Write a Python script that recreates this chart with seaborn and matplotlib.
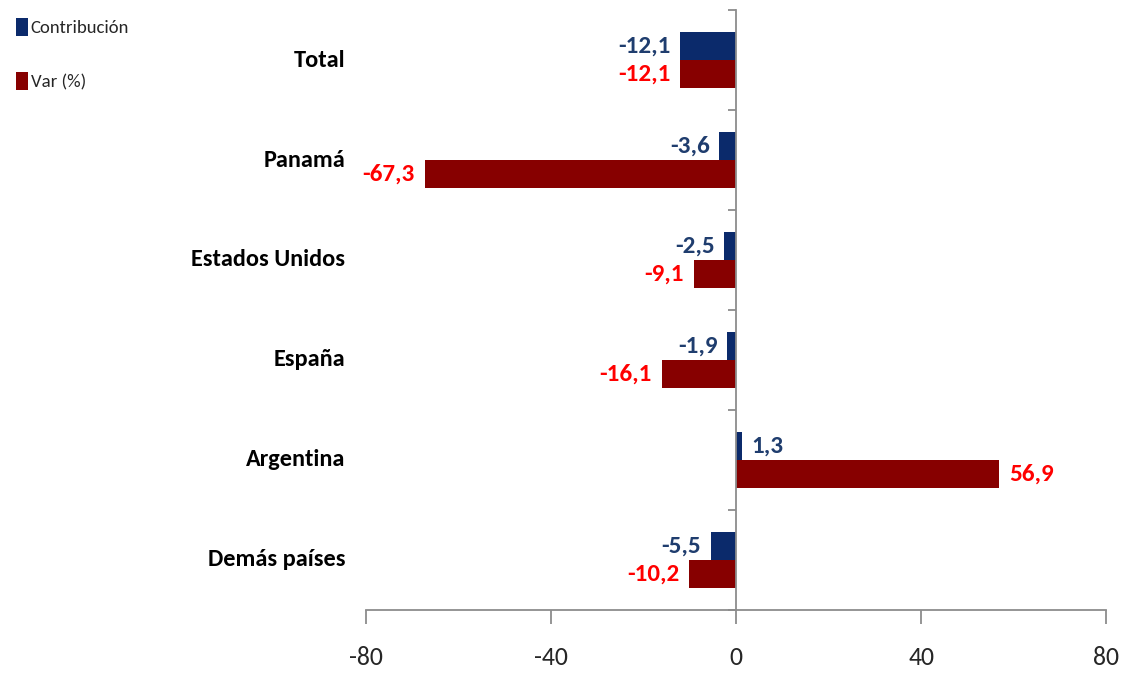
import numpy as np
import pandas as pd
import seaborn as sns
import matplotlib.pyplot as plt
import matplotlib.transforms as mtransforms
from matplotlib import font_manager

# === datos ===
paises = ["Total", "Panamá", "Estados Unidos", "España", "Argentina", "Demás países"]
contribucion = [-12.1, -3.6, -2.5, -1.9, 1.3, -5.5]
var_pct = [-12.1, -67.3, -9.1, -16.1, 56.9, -10.2]
series = ["Contribución", "Var (%)"]
xticks = [-80, -40, 0, 40, 80]

df = pd.DataFrame({
    "pais": paises * 2,
    "serie": [series[0]] * len(paises) + [series[1]] * len(paises),
    "valor": contribucion + var_pct,
})

sns.set_theme(style="white")

# fuente angosta tipo Calibri, la primera que exista
installed = {f.name for f in font_manager.fontManager.ttflist}
candidatos = ["Carlito", "Liberation Sans Narrow", "Roboto Condensed",
              "Open Sans Condensed", "Lato", "Liberation Sans"]
fuente = next((c for c in candidatos if c in installed), "DejaVu Sans")
plt.rcParams["font.family"] = [fuente, "DejaVu Sans"]

bar_colors = {"Contribución": "#0b2a6b", "Var (%)": "#870000"}
label_colors = {"Contribución": "#1f3d6e", "Var (%)": "#ff0000"}

fig = plt.figure(figsize=(11.22, 6.73), dpi=100)
ax = fig.add_axes([0.326, 0.094, 0.66, 0.891])

sns.barplot(
    data=df, y="pais", x="valor", hue="serie", orient="h",
    order=paises, hue_order=series, palette=bar_colors, saturation=1,
    width=0.56, edgecolor="none", ax=ax,
)

# etiquetas de datos
for cont, serie in zip(ax.containers, series):
    vals = df[df["serie"] == serie]["valor"].tolist()
    ax.bar_label(
        cont, labels=[f"{v:.1f}".replace(".", ",") for v in vals],
        padding=7, color=label_colors[serie], fontsize=18, fontweight="bold",
    )

# ejes
ax.set_xlim(-80, 80)
ax.set_xticks(xticks)
ax.set_xticklabels([str(t) for t in xticks], fontsize=18.5)
ax.set_ylim(len(paises) - 0.5, -0.5)
ax.set_yticks(np.arange(-0.5, len(paises), 1))
ax.set_yticklabels([])
ax.set_xlabel("")
ax.set_ylabel("")

for s in ["top", "right"]:
    ax.spines[s].set_visible(False)
ax.spines["left"].set_position(("data", 0))
ax.spines["left"].set_color("#8c8c8c")
ax.spines["bottom"].set_color("#8c8c8c")
ax.spines["left"].set_linewidth(1.3)
ax.spines["bottom"].set_linewidth(1.3)
ax.tick_params(axis="x", direction="out", length=10, width=1.3, color="#8c8c8c", pad=16, bottom=True)
ax.tick_params(axis="y", direction="out", length=6, width=1.3, color="#8c8c8c", left=True)

trans = mtransforms.blended_transform_factory(ax.transAxes, ax.transData)
for i, p in enumerate(paises):
    ax.text(-0.028, i, p, transform=trans, ha="right", va="center",
            fontsize=17.5, fontweight="bold", color="black")

handles, labels = ax.get_legend_handles_labels()
ax.legend_.remove()
fig.legend(
    handles, labels, loc="upper left", bbox_to_anchor=(0.008, 0.985),
    frameon=False, fontsize=13.5, handlelength=0.6, handleheight=1.1,
    handletextpad=0.15, labelspacing=1.9, borderaxespad=0,
)

fig.savefig("out.png", dpi=100)
